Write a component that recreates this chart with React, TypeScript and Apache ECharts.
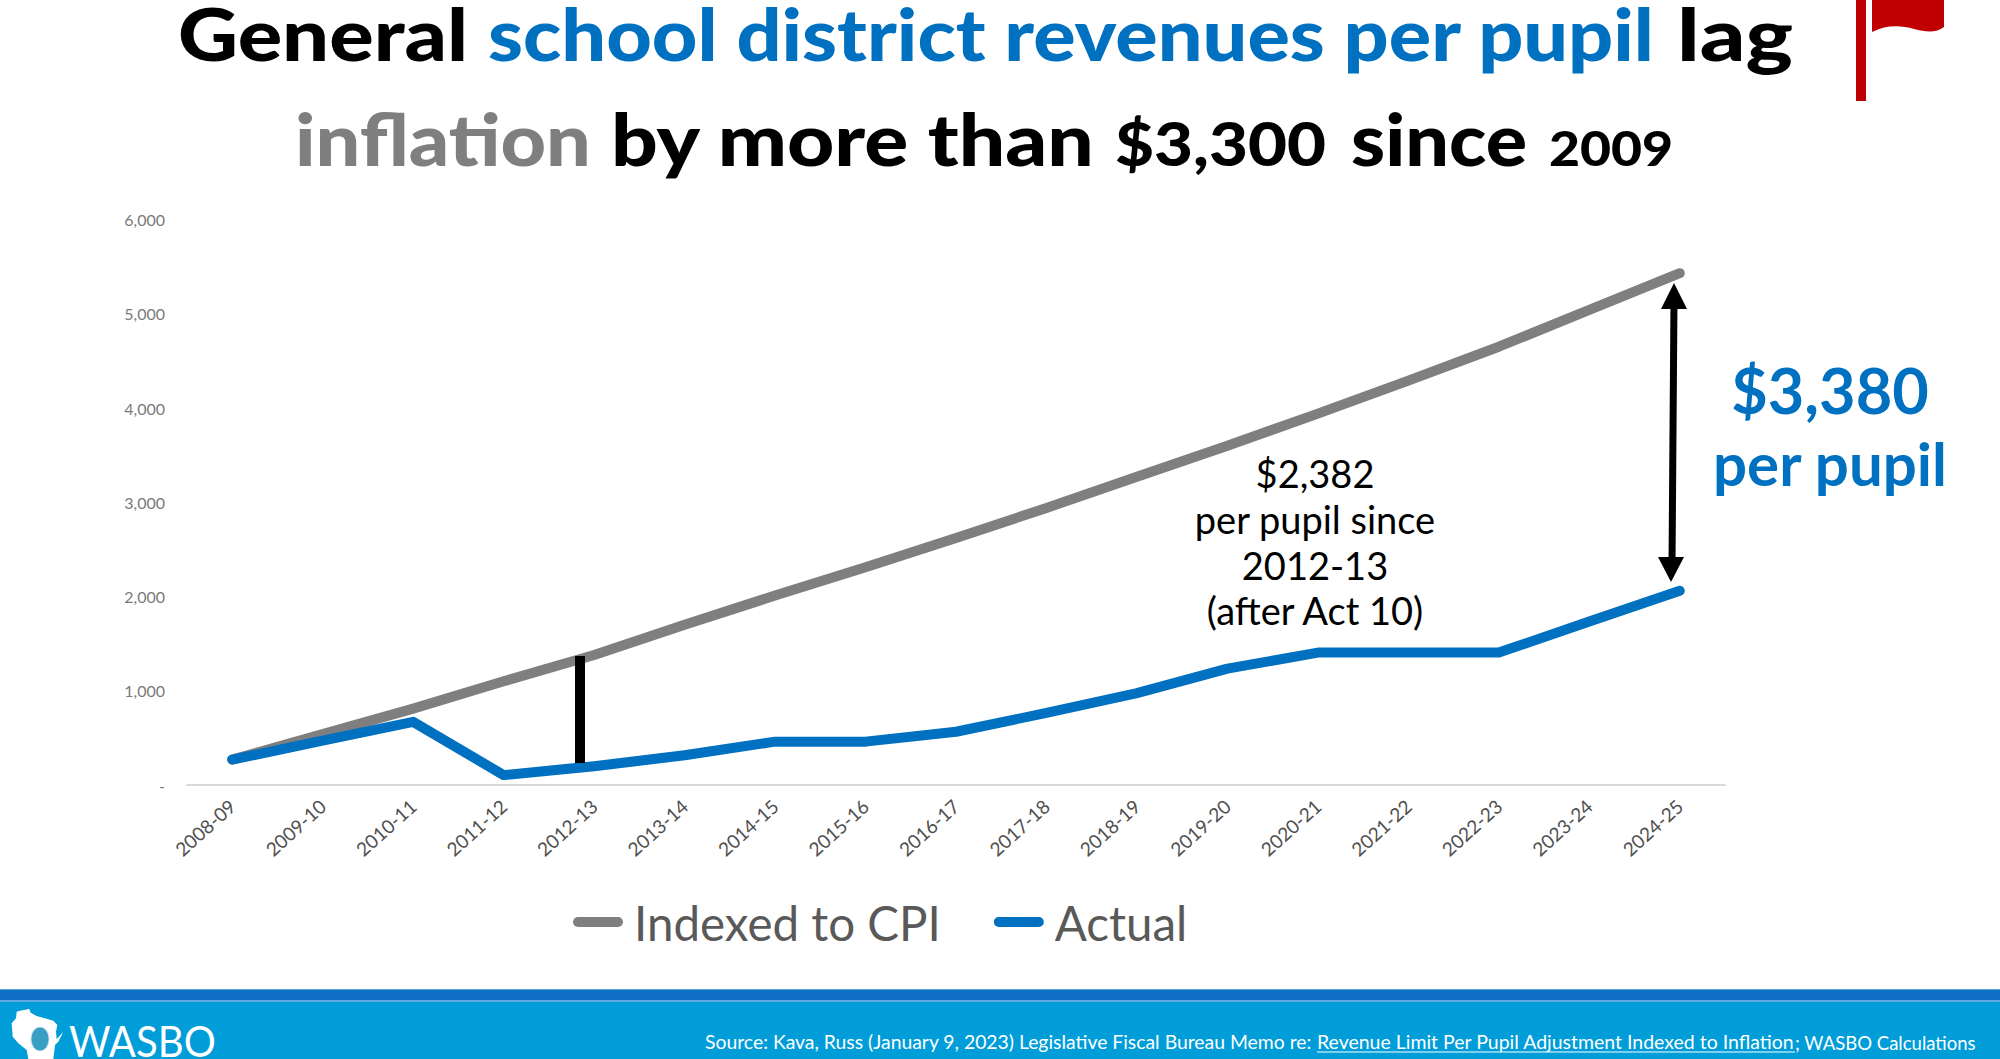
import React, { useEffect, useRef } from "react";
import * as echarts from "echarts";

const categories = ["2008-09","2009-10","2010-11","2011-12","2012-13","2013-14","2014-15","2015-16","2016-17","2017-18","2018-19","2019-20","2020-21","2021-22","2022-23","2023-24","2024-25"];
const indexedToCpi = [270,540,810,1100,1380,1700,2010,2310,2620,2940,3270,3600,3940,4290,4650,5040,5430];
const actual = [270,470,670,105,200,315,460,460,565,765,975,1235,1405,1405,1405,1735,2060];
const yTicks = { min: 0, max: 6000, interval: 1000 };

const BLUE = "#0070c0";
const GREY = "#7f7f7f";
const SANS = "Lato";

function fit(text: string, font: string, width: number) {
  const c = document.createElement("canvas").getContext("2d")!;
  c.font = font;
  return width / c.measureText(text).width;
}

function piece(text: string, x0: number, x1: number, baseline: number, size: number, fill: string, weight: number | string = 900) {
  const font = `${weight} ${size}px ${SANS}`;
  return {
    type: "text", x: x0, y: baseline + size * 0.13, scaleX: fit(text, font, x1 - x0), originX: 0, originY: 0, z: 10,
    style: { text, x: 0, y: 0, fill, font, textAlign: "left", textVerticalAlign: "bottom" },
  };
}

function centered(text: string, cx: number, cy: number, size: number, fill: string, weight: number | string = 400) {
  return {
    type: "text", x: cx, y: cy, z: 10,
    style: { text, fill, font: `${weight} ${size}px ${SANS}`, textAlign: "center", textVerticalAlign: "middle" },
  };
}

export default function App() {
  const ref = useRef<HTMLDivElement>(null);
  useEffect(() => {
    document.body.style.margin = "0";
    document.documentElement.style.overflow = "hidden";
    echarts.graphic.registerShape("redFlag", echarts.graphic.extendPath("M1872 0 L1944 0 L1944 27 C1936 33 1926 32 1914 29 C1900 25 1886 25 1872 32 Z", {}));
    const chart = echarts.init(ref.current!, null, { renderer: "svg" });
    const wi = [[50,35],[60,32],[88,27],[92,38],[110,48],[135,55],[160,62],[172,75],[168,95],[170,118],[190,95],[175,125],[165,135],[160,177],[85,177],[80,150],[55,130],[38,110],[35,70],[48,55]]
      .map(([x, y]) => [x / 3, 1000 + y / 3]);
    chart.setOption({
      animation: false,
      backgroundColor: "#ffffff",
      grid: { left: 187, right: 275, top: 219.5, bottom: 274 },
      legend: {
        left: 568, top: 893, itemWidth: 50, itemHeight: 11, itemGap: 53,
        icon: "path://M5 0H45A5 5 0 0 1 45 10H5A5 5 0 0 1 5 0Z",
        textStyle: { fontFamily: SANS, fontSize: 47.5, color: "#595959", padding: [0, 0, 0, 6] },
        data: ["Indexed to CPI", "Actual"],
      },
      xAxis: {
        type: "category", data: categories, boundaryGap: true,
        axisLine: { lineStyle: { color: "#d9d9d9", width: 2 } },
        axisTick: { show: false },
        axisLabel: { rotate: 42, margin: 18, interval: 0, fontFamily: SANS, fontSize: 19, color: "#505050" },
      },
      yAxis: {
        type: "value", ...yTicks,
        splitLine: { show: false }, axisLine: { show: false }, axisTick: { show: false },
        axisLabel: { margin: 22, fontFamily: SANS, fontSize: 16, color: "#7a7a7a",
          formatter: (v: number) => (v === 0 ? "-" : v.toLocaleString("en-US")) },
      },
      series: [
        { name: "Indexed to CPI", type: "line", data: indexedToCpi, symbol: "none", z: 2,
          itemStyle: { color: GREY }, lineStyle: { color: GREY, width: 10, cap: "round", join: "round" } },
        { name: "Actual", type: "line", data: actual, symbol: "none", z: 3,
          itemStyle: { color: BLUE }, lineStyle: { color: BLUE, width: 10, cap: "round", join: "round" } },
      ],
      graphic: [
        // footer
        { type: "rect", shape: { x: 0, y: 989, width: 2000, height: 70 }, style: { fill: "#009dd9" }, z: 1 },
        { type: "rect", shape: { x: 0, y: 989, width: 2000, height: 13 }, style: { fill: "#5fa8e0" }, z: 1 },
        { type: "rect", shape: { x: 0, y: 990, width: 2000, height: 10 }, style: { fill: "#0f6fc6" }, z: 2 },
        // title
        piece("General", 178, 468, 60, 72, "#000000"),
        piece("school district revenues per pupil", 488, 1656, 60, 72, BLUE),
        piece("lag", 1677, 1793, 60, 72, "#000000"),
        piece("inflation", 295, 591, 165, 72, GREY),
        piece("by more than", 611, 1096, 165, 72, "#000000"),
        piece("$3,300", 1115, 1326, 165, 60, "#000000"),
        piece("since", 1351, 1527, 165, 72, "#000000"),
        piece("2009", 1549, 1673, 165, 48, "#000000"),
        // red flag
        { type: "rect", shape: { x: 1856, y: 0, width: 10, height: 101 }, style: { fill: "#c00000" }, z: 10 },
        { type: "redFlag", style: { fill: "#c00000" }, z: 10 },
        // black gap bar at 2012-13
        { type: "rect", shape: { x: 575, y: 656, width: 10, height: 107 }, style: { fill: "#000000" }, z: 10 },
        // double arrow
        { type: "line", shape: { x1: 1674, y1: 300, x2: 1672, y2: 565 }, style: { stroke: "#000000", lineWidth: 7 }, z: 10 },
        { type: "polygon", shape: { points: [[1674, 283], [1687, 309], [1661, 309]] }, style: { fill: "#000000" }, z: 10 },
        { type: "polygon", shape: { points: [[1671, 582], [1684, 557], [1658, 557]] }, style: { fill: "#000000" }, z: 10 },
        // annotations
        centered("$3,380", 1830, 389, 63, BLUE, 700),
        centered("per pupil", 1830, 463, 60, BLUE, 700),
        centered("$2,382", 1315, 473, 38, "#000000"),
        centered("per pupil since", 1315, 519, 38, "#000000"),
        centered("2012-13", 1315, 565, 38, "#000000"),
        centered("(after Act 10)", 1315, 610, 38, "#000000"),
        // logo
        { type: "polygon", shape: { points: wi }, style: { fill: "#ffffff" }, z: 5 },
        { type: "ellipse", shape: { cx: 40, cy: 1039, rx: 9, ry: 12 }, style: { fill: "#3a9fc4", stroke: "#cfe6ef", lineWidth: 1 }, z: 6 },
        piece("WASBO", 69, 216, 1056, 43, "#ffffff", 400),
        // source
        piece("Source: Kava, Russ (January 9, 2023) Legislative Fiscal Bureau Memo re:", 705, 1312, 1049, 19, "#ffffff", 400),
        piece("Revenue Limit Per Pupil Adjustment Indexed to Inflation", 1317, 1795, 1049, 19, "#ffffff", 400),
        { type: "line", shape: { x1: 1317, y1: 1052, x2: 1795, y2: 1052 }, style: { stroke: "#ffffff", lineWidth: 1 }, z: 10 },
        piece("; WASBO Calculations", 1795, 1976, 1049, 19, "#ffffff", 400),
      ],
    });
    return () => chart.dispose();
  }, []);
  return <div ref={ref} style={{ position: "absolute", left: 0, top: 0, width: 2000, height: 1059 }} />;
}
